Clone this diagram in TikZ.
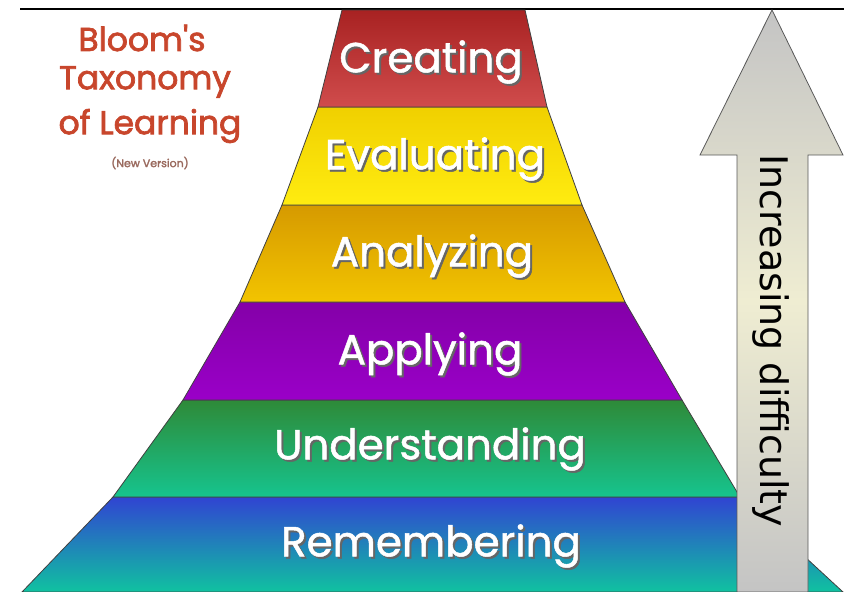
\documentclass[tikz,border=0pt]{standalone}
\usepackage{fontspec}
\newfontfamily\levelfont[FakeBold=1.2]{Poppins}
\newfontfamily\titlefont[FakeBold=2.2]{Poppins}
\newfontfamily\arrowfont{DejaVu Sans}
\definecolor{titlered}{HTML}{C8462C}
\definecolor{versiongrey}{HTML}{9A6A5E}
\definecolor{createtop}{HTML}{A82222}
\definecolor{createbot}{HTML}{D04C4C}
\definecolor{evaltop}{HTML}{F0D000}
\definecolor{evalbot}{HTML}{FFEC10}
\definecolor{analyzetop}{HTML}{D69A00}
\definecolor{analyzebot}{HTML}{F2C400}
\definecolor{applytop}{HTML}{8400A8}
\definecolor{applybot}{HTML}{9A00C8}
\definecolor{understandtop}{HTML}{2E8A38}
\definecolor{understandbot}{HTML}{16C48E}
\definecolor{remembertop}{HTML}{3044D2}
\definecolor{rememberbot}{HTML}{10C2A0}
\definecolor{arrowgrey}{HTML}{C4C4C4}
\definecolor{arrowcream}{HTML}{EFEDD2}
\newcommand\shadowtext[1]{\leavevmode\rlap{\kern2pt\lower2pt\hbox{\color{black!60}#1}}#1}
\tikzset{
  layer/.style={draw=black!75, line width=0.8pt},
  leveltext/.style={text=white, inner sep=0pt, font=\levelfont\fontsize{42}{42}\selectfont},
  titletext/.style={text=titlered, inner sep=0pt, font=\titlefont\fontsize{33}{33}\selectfont},
}
\begin{document}
\begin{tikzpicture}[x=1pt,y=-1pt]
\useasboundingbox (0,0) rectangle (844,592);
\draw[line width=2pt] (20,9) -- (844,9) ; % Frame.top
\draw[layer,top color=remembertop,bottom color=rememberbot] (113,497) -- (740,497) -- (843,592) -- (22,592) -- cycle ; % Layer.1
\draw[layer,top color=understandtop,bottom color=understandbot] (183,400) -- (682,400) -- (740,497) -- (113,497) -- cycle ; % Layer.2
\draw[layer,top color=applytop,bottom color=applybot] (240,302) -- (625,302) -- (682,400) -- (183,400) -- cycle ; % Layer.3
\draw[layer,top color=analyzetop,bottom color=analyzebot] (282,205) -- (582,205) -- (625,302) -- (240,302) -- cycle ; % Layer.4
\draw[layer,top color=evaltop,bottom color=evalbot] (318,107) -- (547,107) -- (582,205) -- (282,205) -- cycle ; % Layer.5
\draw[layer,top color=createtop,bottom color=createbot] (342,10) -- (525,10) -- (547,107) -- (318,107) -- cycle ; % Layer.6
\node[leveltext] (remembering) at (431,547) {\shadowtext{Remembering}}; % Layer.1
\node[leveltext] (understanding) at (430,450) {\shadowtext{Understanding}}; % Layer.2
\node[leveltext] (applying) at (430,355) {\shadowtext{Applying}}; % Layer.3
\node[leveltext] (analyzing) at (432,257) {\shadowtext{Analyzing}}; % Layer.4
\node[leveltext] (evaluating) at (435,160) {\shadowtext{Evaluating}}; % Layer.5
\node[leveltext] (creating) at (431,63) {\shadowtext{Creating}}; % Layer.6
\draw[draw=black!65, line width=0.8pt, top color=arrowgrey, bottom color=arrowgrey, middle color=arrowcream] (772,10) -- (843,155) -- (808,155) -- (808,592) -- (737,592) -- (737,155) -- (700,155) -- cycle ; % Arrow
\node[rotate=-90, inner sep=0pt, font=\arrowfont\fontsize{38}{38}\selectfont] (difficulty) at (771,341) {Increasing difficulty}; % Arrow
\node[titletext] (bloom) at (142,38) {Bloom's}; % Title
\node[titletext] (taxonomy) at (145,82) {Taxonomy}; % Title
\node[titletext] (learning) at (150,126) {of Learning}; % Title
\node[text=versiongrey, inner sep=0pt, font=\titlefont\fontsize{11}{11}\selectfont] (version) at (150,163) {(New Version)}; % Title
\end{tikzpicture}
\end{document}
